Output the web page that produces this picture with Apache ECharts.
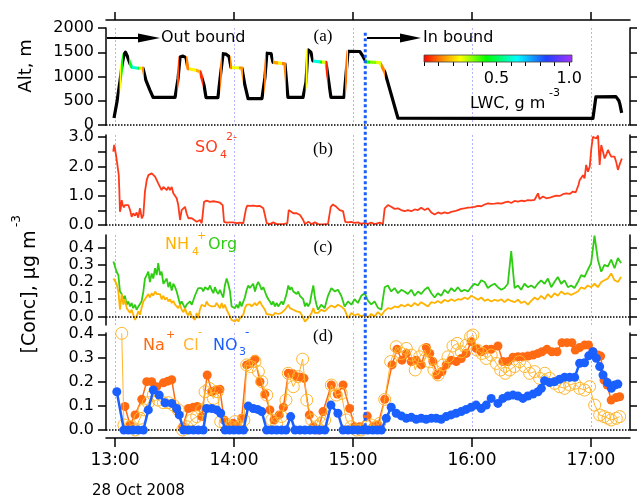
<!DOCTYPE html>
<html><head><meta charset="utf-8">
<script src="https://cdn.jsdelivr.net/npm/echarts@6/dist/echarts.min.js"></script>
<style>html,body{margin:0;padding:0;background:#fff}#c{width:638px;height:498px}</style>
</head><body><div id="c"></div>
<script>
// ---------- DATA (time = minutes after 13:00, 28 Oct 2008) ----------
const xTickValues = [0, 60, 120, 180, 240];
const xTickLabels = ['13:00', '14:00', '15:00', '16:00', '17:00'];
const altTicks = [0, 500, 1000, 1500, 2000];
const so4Labels = [0, 1, 2, 3];
const so4Ticks = [0, 0.5, 1, 1.5, 2, 2.5, 3];
const concTicks = [0, 0.1, 0.2, 0.3, 0.4];
const lwcTicks = [0, 0.1, 0.2, 0.3, 0.4, 0.5, 0.6, 0.7, 0.8, 0.9, 1.0];
const lwcLabels = [0.5, 1.0];
const inboundTime = 126.2;

// altitude [time, m]
const altitude = [[-0.5,145],[1.0,480],[2.5,900],[3.5,1230],[4.5,1450],[5.3,1500],[6.1,1430],[6.8,1450],[7.6,1260],[8.6,1185],[10.1,1180],[11.6,1170],[14.1,1175],[15.6,920],[17.6,720],[19.2,570],[24.5,568],[30.3,570],[31.8,960],[32.8,1400],[34.3,1420],[35.8,1390],[36.8,1160],[37.8,1145],[40.8,1130],[42.9,1100],[43.9,1090],[44.9,820],[45.9,565],[51.9,565],[52.9,930],[54.5,1470],[56.0,1460],[57.5,1410],[58.5,1185],[61.0,1180],[64.0,1175],[65.5,820],[67.1,545],[74.1,545],[75.6,980],[76.6,1480],[78.7,1470],[79.7,1290],[85.7,1260],[87.2,570],[94.8,570],[96.3,880],[97.3,1550],[98.8,1500],[99.8,1320],[103.4,1300],[106.4,1290],[108.9,570],[115.5,570],[117.5,1520],[123.5,1515],[125.0,1420],[126.6,1300],[133.6,1285],[136.1,1090],[142.7,140],[190.0,138],[241.0,135],[242.5,580],[252.6,585],[254.1,500],[254.6,430],[255.5,250]];

// cloud passages: [start, end, LWC g m-3]
const lwcSegments = [[1.8,2.6,0.04],[2.6,3.1,0.25],[3.1,3.8,0.43],[7.3,8.4,0.45],[8.4,11.4,0.6],[11.4,12.3,0.45],[12.3,13.5,0.28],[13.5,14.4,0.12],
 [31.3,32.4,0.06],[35.9,37.2,0.12],[37.2,40.6,0.24],[40.6,42.9,0.17],[42.9,44.2,0.04],
 [52.9,54.0,0.1],[57.9,58.9,0.12],[58.9,62.4,0.26],[62.4,64.3,0.14],
 [75.2,76.2,0.1],[79.6,82.0,0.15],[82.0,84.2,0.24],[84.2,86.0,0.12],
 [95.6,96.4,0.03],[96.4,96.9,0.25],[96.9,97.4,0.43],[99.8,100.6,0.45],[100.6,103.4,0.62],[103.4,104.5,0.45],[104.5,105.7,0.28],[105.7,106.6,0.12],[106.6,107.4,0.03],
 [116.0,116.8,0.1],[116.8,117.4,0.25],[126.3,128.5,0.42],[128.5,131.5,0.34],[131.5,134.3,0.27],[134.3,136.0,0.12]];

const so4 = [[-0.9,2.5],[-0.4,2.73],[0.2,2.78],[0.5,2.39],[1.2,2.05],[1.9,1.70],[2.2,1.14],[2.5,0.45],[2.9,0.57],[3.4,0.85],[3.9,0.68],[4.5,0.6],[5.0,0.68],[5.9,0.62],[6.7,0.68],[7.6,0.51],[8.4,0.28],[9.2,0.40],[10.1,0.32],[10.9,0.43],[11.7,0.25],[12.6,0.57],[13.5,0.23],[14.3,0.34],[15.1,1.14],[16.0,1.53],[16.8,1.70],[17.6,1.65],[18.5,1.76],[19.3,1.70],[20.2,1.65],[21.0,1.59],[21.8,1.42],[22.7,1.36],[23.5,1.19],[24.4,1.30],[25.2,1.25],[26.1,1.19],[26.9,1.30],[27.7,1.19],[28.6,1.30],[29.4,1.08],[30.3,1.02],[31.1,0.91],[31.9,0.68],[32.8,0.17],[33.6,0.51],[34.4,0.57],[35.3,0.62],[36.1,0.40],[37.0,0.23],[37.8,0.17],[38.7,0.23],[39.5,0.17],[41.2,0.11],[42.9,0.17],[43.7,0.06],[44.2,0.34],[44.9,0.79],[46.2,0.83],[47.9,0.79],[49.6,0.81],[51.3,0.79],[52.9,0.76],[54.3,0.68],[55.0,0.11],[56.3,0.08],[58.0,0.09],[59.6,0.09],[61.4,0.06],[63.0,0.08],[64.7,0.06],[66.1,0.57],[66.7,0.66],[68.1,0.65],[69.7,0.66],[71.4,0.64],[73.1,0.65],[74.8,0.57],[75.6,0.34],[76.5,0.06],[78.2,0.03],[79.8,0.09],[81.5,0.03],[84.9,0.03],[86.9,0.06],[87.6,0.51],[88.2,0.49],[89.9,0.40],[91.6,0.40],[93.3,0.34],[94.9,0.17],[95.8,0.03],[97.5,0.11],[99.2,0.03],[100.8,0.09],[102.5,0.03],[104.9,0.02],[107.4,0.04],[108.8,0.62],[109.9,0.70],[111.6,0.62],[113.3,0.51],[115.0,0.47],[116.1,0.11],[117.5,0.09],[119.1,0.11],[120.9,0.07],[122.5,0.09],[124.2,0.04],[125.9,0.07],[127.6,0.04],[129.2,0.08],[130.9,0.03],[133.5,0.08],[135.1,0.03],[136.0,0.57],[137.6,0.68],[139.3,0.62],[141.0,0.55],[142.7,0.57],[144.3,0.51],[146.1,0.47],[147.7,0.51],[149.4,0.47],[151.1,0.53],[152.8,0.51],[154.4,0.59],[156.2,0.51],[157.8,0.57],[159.5,0.43],[161.2,0.36],[162.9,0.43],[164.5,0.39],[166.2,0.43],[167.9,0.40],[169.6,0.45],[171.3,0.47],[172.9,0.51],[174.6,0.55],[176.3,0.57],[178.0,0.59],[179.6,0.60],[181.4,0.62],[183.0,0.65],[184.7,0.64],[186.4,0.70],[188.1,0.74],[189.7,0.72],[191.5,0.73],[193.1,0.75],[194.8,0.73],[196.5,0.77],[198.2,0.80],[199.8,0.75],[201.5,0.82],[203.2,0.80],[204.9,0.83],[206.5,0.81],[208.2,0.85],[209.9,0.84],[211.6,0.86],[213.3,1.08],[214.1,0.89],[215.8,0.97],[217.5,0.91],[219.2,0.93],[220.8,0.97],[222.5,1.00],[224.2,0.99],[225.9,1.05],[227.6,1.08],[229.3,1.06],[230.9,1.14],[232.3,1.11],[233.8,1.38],[234.3,1.53],[235.1,1.59],[236.0,1.70],[236.8,1.59],[237.6,2.05],[238.5,1.82],[239.4,1.99],[240.2,2.61],[241.0,3.01],[241.9,3.06],[242.7,2.95],[243.6,3.05],[244.4,2.05],[245.2,2.73],[246.1,2.50],[246.9,2.27],[247.7,2.39],[248.6,2.56],[249.4,2.44],[250.2,2.33],[251.1,2.27],[251.9,2.33],[252.7,2.16],[253.6,1.88],[254.4,2.05],[255.6,2.27]];

const amsTime = [-0.8,0.0,0.8,1.7,2.5,3.4,4.2,5.0,5.9,6.7,7.6,8.4,9.2,10.1,10.9,11.8,12.6,13.4,14.3,15.1,16.0,16.8,17.6,18.5,19.3,20.2,21.0,21.8,22.7,23.5,24.4,25.2,26.1,26.9,27.7,28.6,29.4,30.3,31.1,31.9,32.8,33.6,34.5,35.3,36.1,37.0,37.8,38.7,39.5,40.3,41.2,42.0,42.8,43.7,44.5,45.4,46.2,47.0,47.9,48.7,49.6,50.4,51.2,52.1,52.9,53.8,54.6,55.4,56.3,57.1,58.0,58.8,59.6,60.5,61.3,62.2,63.0,63.8,64.7,65.5,66.4,67.2,68.0,68.9,69.7,70.6,71.4,72.2,73.1,73.9,74.8,75.6,76.4,77.3,78.1,79.0,79.8,80.6,81.5,82.3,83.2,84.0,84.8,85.7,86.5,87.4,88.2,89.0,89.9,90.7,91.6,92.4,93.2,94.1,94.9,95.8,96.6,97.4,98.3,99.1,100.0,100.8,101.6,
 102.4,104.0,105.7,107.4,109.1,110.8,112.4,114.1,115.8,117.5,119.2,120.8,122.5,124.2,125.9,127.6,129.2,130.9,132.6,134.3,136.0,137.6,139.3,141.0,142.7,144.4,146.0,147.7,149.4,151.1,152.8,154.4,156.1,157.8,159.5,161.2,162.8,164.5,166.2,167.9,169.6,171.2,172.9,174.6,176.3,178.0,179.6,181.3,183.0,184.7,186.4,188.0,189.7,191.4,193.1,194.8,196.4,198.1,199.8,201.5,203.2,204.8,206.5,208.2,209.9,211.6,213.2,214.9,216.6,218.3,220.0,221.6,223.3,225.0,226.7,228.4,230.0,231.7,233.4,235.1,236.8,238.4,240.1,241.8,243.5,245.2,246.8,248.5,250.2,251.9,253.6,255.2];

const nh4 = [.22,.21,.19,.145,.04,.13,.068,.10,.048,.039, .02,.039,.01,-.02,0,.029,.01,.048,.087,.10, .097,.13,.11,.135,.12,.145,.13,.12,.13,.10, .12,.097,.11,.087,.10,.078,.09,.068,.078,.048, .068,.039,.025,.048,.02,.006,.029,0,.01,-.02, .02,-.01,.039,.068,.078,.058,.087,.068,.078,.058, .068,.058,.078,.068,.048,.078,.048,.068,.039,.02, 0,-.02,-.01,-.03,-.015,-.03,-.01,-.02,.01,.048, .068,.058,.07,.058,.068,.078,.064,.07,.087,.068, .058,.039,.014,.02,.01,.014,.006,.02,.01,.014, .006,.02,.025,.039,.048,.068,.048,.058,.039,.048, .029,.039,.025,.01,-.01,-.03,-.02,-.01,0,.02, .048,.02,.029,
 .02,.039,.029,.048,.064,.052,.068,.058,.039,-.01, .02,.006,.014,0,.01,-.005,.014,0,.025,.006, .033,.048,.044,.058,.052,.068,.058,.07,.058,.078, .064,.083,.07,.058,.083,.078,.09,.078,.097,.087, .10,.09,.10,.097,.11,.10,.12,.11,.097,.11, .09,.10,.087,.097,.09,.10,.083,.10,.09,.083, .097,.078,.087,.068,.09,.11,.097,.12,.10,.13, .11,.135,.12,.145,.13,.135,.125,.135,.145,.17, .16,.18,.17,.19,.17,.20,.21,.22,.25,.21, .20,.23];

const org = [.32,.33,.26,.24,.145,.13,.10,.12,.068,.087, .058,.078,.048,.068,.039,.058,.068,.087,.145,.22, .24,.26,.20,.25,.22,.28,.24,.31,.24,.26, .19,.18,.22,.17,.20,.15,.19,.17,.145,.11, .068,.087,.078,.048,.068,.058,.087,.068,.078,.12, .145,.165,.155,.165,.145,.17,.165,.155,.18,.155, .135,.17,.145,.13,.155,.13,.11,.18,.22,.19, .145,.058,.068,.048,.068,.048,.087,.058,.068,.11, .155,.18,.165,.17,.19,.145,.18,.20,.18,.155, .17,.145,.12,.10,.087,.068,.087,.058,.078,.058, .068,.087,.068,.10,.13,.18,.155,.17,.145,.155, .13,.145,.12,.13,.10,.058,.078,.058,.078,.13, .18,.11,.068,
 .039,.068,.048,.12,.165,.145,.155,.12,.058,.087, .068,.10,.078,.12,.135,.09,.07,.087,.05,.039, .17,.18,.145,.165,.135,.155,.145,.13,.155,.12, .145,.13,.155,.17,.135,.11,.135,.12,.155,.135, .165,.145,.17,.145,.155,.145,.17,.19,.18,.21, .20,.165,.18,.19,.17,.155,.165,.19,.38,.165, .18,.155,.19,.17,.18,.165,.19,.21,.19,.22, .17,.20,.23,.19,.21,.17,.18,.165,.20,.24, .23,.27,.31,.47,.33,.26,.30,.29,.33,.28, .34,.31];

const na = [[5.0,0.098],[7.6,0.021],[10.1,0.063],[13.5,0.128],[16.0,0.202],[18.5,0.202],[21.0,0.181],[24.4,0.197],[26.6,0.204],[28.6,0.21],[31.1,0.086],[34.1,0.014],[37.0,0.09],[39.5,0.095],[41.5,0.098],[43.7,0.056],[46.5,0.23],[48.8,0.16],[50.9,0.167],[52.9,0.17],[55.0,0.042],[57.1,0.014],[59.6,0.028],[61.7,0.014],[63.9,0.049],[66.4,0.272],[68.4,0.279],[70.6,0.296],[73.1,0.202],[75.6,0.15],[78.1,0.084],[80.2,0.042],[82.8,0.063],[84.9,0.095],[87.4,0.237],[89.6,0.235],[91.6,0.223],[93.6,0.22],[95.3,0.216],[98.0,0.063],[100.0,0.014],[102.5,0.0],[104.9,0.077],[109.1,0.188],[112.1,0.15],[115.0,0.188],[118.3,0.09],[120.9,0.014],[123.4,0.014],[127.2,0.058],[130.1,0.014],[132.6,0.021],[136.0,0.128],[139.7,0.272],[142.2,0.337],[144.7,0.292],[146.9,0.32],[149.4,0.286],[151.9,0.292],[154.4,0.272],[157.0,0.345],[158.7,0.32],[160.3,0.286],[162.5,0.23],[164.9,0.244],[167.0,0.272],[169.6,0.292],[172.1,0.286],[174.6,0.299],[177.1,0.32],[179.6,0.369],[182.2,0.341],[184.7,0.327],[187.2,0.337],[189.7,0.337],[193.1,0.351],[195.6,0.286],[198.2,0.286],[200.7,0.304],[203.2,0.306],[205.7,0.306],[208.2,0.309],[210.8,0.313],[213.3,0.32],[215.3,0.327],[217.8,0.337],[220.3,0.327],[222.9,0.327],[225.4,0.365],[227.9,0.365],[230.4,0.365],[232.1,0.334],[234.3,0.345],[236.8,0.355],[238.8,0.355],[241.0,0.327],[243.5,0.313],[244.9,0.309],[246.6,0.209],[248.2,0.188],[250.2,0.125],[252.8,0.136],[254.5,0.139]];

const cl = [[3.4,0.404],[4.5,0.021],[7.6,0.014],[10.1,0.0],[12.6,0.049],[14.6,0.084],[16.8,0.114],[19.3,0.146],[21.8,0.125],[24.4,0.114],[26.9,0.114],[29.4,0.104],[31.9,0.084],[34.1,0.0],[36.2,0.014],[38.7,0.042],[41.2,0.056],[43.7,0.084],[45.4,0.16],[47.5,0.174],[49.6,0.132],[51.6,0.16],[53.3,0.035],[55.5,0.028],[58.0,0.014],[60.5,0.035],[63.0,0.014],[65.0,0.042],[66.4,0.272],[68.4,0.265],[70.6,0.286],[72.3,0.244],[74.0,0.202],[76.5,0.146],[79.0,0.042],[81.5,0.028],[84.0,0.056],[86.2,0.125],[87.4,0.237],[89.9,0.181],[92.4,0.223],[94.6,0.296],[96.7,0.125],[99.2,0.042],[101.7,0.014],[104.0,0.028],[105.7,0.042],[109.1,0.188],[111.6,0.146],[114.1,0.153],[116.6,0.042],[119.1,0.014],[121.7,0.0],[124.2,0.0],[126.7,0.014],[129.2,0.021],[131.7,0.014],[133.5,0.028],[136.0,0.128],[139.0,0.286],[141.8,0.348],[144.4,0.32],[146.9,0.341],[149.4,0.313],[151.4,0.251],[153.6,0.306],[156.2,0.334],[158.7,0.285],[160.8,0.251],[162.9,0.23],[165.4,0.272],[167.9,0.306],[170.4,0.351],[172.6,0.362],[174.6,0.327],[177.1,0.355],[179.3,0.39],[180.5,0.397],[182.7,0.334],[185.0,0.32],[187.2,0.299],[189.7,0.313],[192.3,0.278],[194.5,0.251],[196.8,0.237],[199.0,0.251],[201.5,0.265],[204.0,0.286],[206.6,0.265],[209.1,0.237],[211.6,0.244],[214.1,0.216],[216.7,0.237],[219.2,0.216],[221.7,0.195],[224.2,0.181],[226.7,0.174],[229.3,0.188],[231.8,0.195],[234.3,0.174],[236.8,0.167],[239.3,0.181],[241.9,0.104],[244.4,0.063],[246.6,0.056],[248.6,0.049],[250.2,0.042],[252.8,0.049],[254.5,0.056]];

const no3 = [[0.9,0.16],[4.5,0],[6.7,0],[9.2,0],[11.7,0],[14.3,0],[16.8,0.084],[19.3,0.167],[22.3,0.146],[25.2,0.114],[28.6,0.111],[31.1,0.09],[32.4,0.063],[34.6,0],[37,0],[39.5,0],[42,0],[44.5,0],[46.2,0.09],[48.8,0.09],[51.3,0.084],[53.3,0.07],[55.5,0],[57.8,0],[60,0],[62.4,0],[64.8,0],[67.2,0.1],[69.7,0.09],[71.9,0.086],[74,0.077],[76.5,0],[79,0],[81.5,0],[84,0],[86.2,0],[88.6,0.056],[90.8,0],[93.3,0],[95.8,0],[98.3,0],[100.8,0],[103.3,0],[105.8,0],[108.9,0.104],[112.4,0.07],[115,0],[117.5,0],[120,0],[122.5,0],[125,0],[127.5,0],[130,0],[132.3,0],[134.3,0],[136.8,0.049],[139.3,0.095],[141.8,0.07],[144.4,0.059],[146.9,0.049],[149.4,0.053],[151.9,0.045],[154.4,0.049],[156.9,0.045],[159.5,0.049],[162,0.049],[164.5,0.045],[167,0.056],[169.5,0.063],[172,0.07],[174.6,0.077],[177.1,0.086],[179.6,0.095],[182.1,0.104],[184.7,0.09],[187.2,0.104],[189.7,0.132],[193.1,0.111],[195.6,0.132],[198.2,0.142],[200.7,0.146],[203.2,0.142],[205.7,0.132],[208.2,0.142],[210.8,0.15],[213.3,0.16],[215,0.174],[216.6,0.206],[219.2,0.198],[221.7,0.202],[224.2,0.212],[226.7,0.22],[229.3,0.22],[231.8,0.22],[234.3,0.279],[236.8,0.281],[238.9,0.31],[241,0.327],[242.7,0.30],[244.4,0.265],[246.1,0.23],[248.3,0.198],[250.3,0.174],[252,0.188],[253.6,0.192]];

// ---------- STYLE ----------
const FONT = 'DejaVu Sans';
const C_SO4 = '#ff3a1a', C_NH4 = '#ffb300', C_ORG = '#2ecc12', C_NA = '#ff6a13', C_CL = '#ffb52e', C_NO3 = '#1a5fff';
const cmapStops = [[0,[255,0,0]],[0.1,[255,112,0]],[0.25,[255,255,0]],[0.43,[0,255,0]],[0.64,[0,255,255]],[0.84,[32,64,255]],[1,[153,51,255]]];
function lwcColor(v) {
  for (let i = 1; i < cmapStops.length; i++) {
    if (v <= cmapStops[i][0]) {
      const a = cmapStops[i-1], b = cmapStops[i];
      const f = (v - a[0]) / (b[0] - a[0]);
      const c = a[1].map((x, k) => Math.round(x + (b[1][k] - x) * f));
      return 'rgb(' + c.join(',') + ')';
    }
  }
  return 'rgb(153,51,255)';
}

const xMin = -4.54, xMax = 259.7;
const chart = echarts.init(document.getElementById('c'), null, {renderer: 'canvas'});

const gridLine = {show: true, lineStyle: {color: '#b4b4ff', type: [2, 2], width: 1}};
function xAx(i, extra) {
  return Object.assign({
    type: 'value', gridIndex: i, min: xMin, max: xMax,
    axisLine: {show: false, onZero: false},
    axisTick: {show: false, customValues: xTickValues},
    axisLabel: {show: false},
    splitLine: gridLine
  }, extra || {});
}
const axLine = {show: true, onZero: false, lineStyle: {color: '#000', width: 1.5}};
function yLeft(i, min, max, ticks, labels, fmt) {
  return {
    type: 'value', gridIndex: i, position: 'left', min: min, max: max,
    axisLine: axLine,
    axisTick: {show: true, customValues: ticks, length: 8, lineStyle: {color: '#000', width: 1.5}},
    axisLabel: {show: true, customValues: labels, formatter: fmt, fontSize: 16, fontFamily: FONT, color: '#000', margin: 12},
    splitLine: {show: false}
  };
}
function yRight(i, min, max, ticks) {
  return {
    type: 'value', gridIndex: i, position: 'right', min: min, max: max,
    axisLine: axLine,
    axisTick: {show: true, customValues: ticks, length: 7, lineStyle: {color: '#000', width: 1.5}},
    axisLabel: {show: false},
    splitLine: {show: false}
  };
}
const zeroLine = {silent: true, symbol: 'none', label: {show: false}, animation: false,
  lineStyle: {color: '#000', type: [1.5, 1.5], width: 1.5}, data: [{yAxis: 0}]};

const f1 = v => Number(v).toFixed(1);

const option = {
  animation: false,
  textStyle: {fontFamily: FONT},
  grid: [
    {left: 106, right: 8, top: 28, height: 97},
    {left: 106, right: 8, top: 135, height: 90},
    {left: 106, right: 8, top: 235, height: 90},
    {left: 106, right: 8, top: 333, height: 97},
    {left: 424, top: 55, width: 148, height: 7}
  ],
  xAxis: [
    xAx(0, {position: 'top', offset: 8, axisLine: axLine,
      axisTick: {show: true, customValues: xTickValues, length: 8, lineStyle: {color: '#000', width: 1.5}}}),
    xAx(1),
    xAx(2),
    xAx(3, {position: 'bottom', offset: 8, axisLine: axLine,
      axisTick: {show: true, customValues: xTickValues, length: 9, lineStyle: {color: '#000', width: 1.5}},
      axisLabel: {show: true, customValues: xTickValues, fontSize: 17, fontFamily: FONT, color: '#000', margin: 14,
        formatter: v => xTickLabels[xTickValues.indexOf(Math.round(v))] || ''}}),
    {type: 'value', gridIndex: 4, min: 0, max: 1.02, position: 'bottom',
      axisLine: {show: false, onZero: false},
      axisTick: {show: true, customValues: lwcTicks, length: 4, lineStyle: {color: '#000', width: 1}},
      axisLabel: {show: true, customValues: lwcLabels, formatter: f1, fontSize: 16, fontFamily: FONT, color: '#000', margin: 9},
      splitLine: {show: false}}
  ],
  yAxis: [
    yLeft(0, 0, 2000, altTicks, altTicks, v => String(Math.round(v))),
    yRight(0, 0, 2000, altTicks),
    yLeft(1, 0, 3.07, so4Ticks, so4Labels, f1),
    yRight(1, 0, 3.07, so4Ticks),
    yLeft(2, -0.05, 0.4736, concTicks, concTicks, f1),
    yRight(2, -0.05, 0.4736, concTicks),
    yLeft(3, 0, 0.4054, concTicks, concTicks, f1),
    yRight(3, 0, 0.4054, concTicks),
    {type: 'value', gridIndex: 4, min: 0, max: 1, show: false}
  ],
  visualMap: [{
    type: 'piecewise', show: false, seriesIndex: 0, dimension: 0,
    pieces: lwcSegments.map(s => ({gte: s[0], lt: s[1], color: lwcColor(s[2])})),
    outOfRange: {color: '#000'}
  }],
  series: [
    {type: 'line', name: 'Alt', xAxisIndex: 0, yAxisIndex: 0, data: altitude, symbol: 'none', z: 4,
      lineStyle: {width: 3.2, join: 'round'}, markLine: zeroLine},
    {type: 'line', name: 'SO4', xAxisIndex: 1, yAxisIndex: 2, data: so4, symbol: 'none', z: 3,
      lineStyle: {width: 1.8, color: C_SO4}, markLine: zeroLine},
    {type: 'line', name: 'Org', xAxisIndex: 2, yAxisIndex: 4, data: amsTime.map((t, i) => [t, org[i]]), symbol: 'none', z: 3,
      lineStyle: {width: 1.8, color: C_ORG}, markLine: zeroLine},
    {type: 'line', name: 'NH4', xAxisIndex: 2, yAxisIndex: 4, data: amsTime.map((t, i) => [t, nh4[i]]), symbol: 'none', z: 3,
      lineStyle: {width: 1.8, color: C_NH4}},
    {type: 'line', name: 'Na', xAxisIndex: 3, yAxisIndex: 6, data: na, symbol: 'circle', symbolSize: 9, z: 3,
      lineStyle: {width: 1.5, color: C_NA}, itemStyle: {color: C_NA}, markLine: zeroLine},
    {type: 'line', name: 'Cl', xAxisIndex: 3, yAxisIndex: 6, data: cl, symbol: 'circle', symbolSize: 12, z: 4,
      lineStyle: {width: 1, color: C_CL}, itemStyle: {color: 'rgba(0,0,0,0)', borderColor: C_CL, borderWidth: 1}},
    {type: 'line', name: 'NO3', xAxisIndex: 3, yAxisIndex: 6, data: no3, symbol: 'circle', symbolSize: 9, z: 5,
      lineStyle: {width: 2.5, color: C_NO3}, itemStyle: {color: C_NO3}},
    {type: 'line', xAxisIndex: 4, yAxisIndex: 8, data: [], silent: true}
  ]
};
chart.setOption(option);

// ---------- annotations ----------
function txt(x, y, s, size, color, extra) {
  return Object.assign({type: 'text', x: x, y: y, z: 20,
    style: Object.assign({text: s, fontSize: size, fontFamily: FONT, fill: color || '#000', align: 'left', verticalAlign: 'middle'}, (extra && extra.style) || {})},
    extra && extra.rotation !== undefined ? {rotation: extra.rotation} : {});
}
const bx = chart.convertToPixel({xAxisIndex: 0}, inboundTime);
const byTop = chart.convertToPixel({yAxisIndex: 0}, 1900);
const byBot = chart.convertToPixel({yAxisIndex: 6}, 0);
const serif = {style: {fontFamily: 'Liberation Serif', align: 'center'}};

const graphics = [
  // colorbar
  {type: 'rect', z: 20, shape: {x: 424, y: 55, width: 148, height: 7},
    style: {fill: new echarts.graphic.LinearGradient(0, 0, 1, 0,
      cmapStops.map(s => ({offset: s[0] / 1.02, color: 'rgb(' + s[1].join(',') + ')'})).concat([{offset: 1, color: 'rgb(153,51,255)'}])),
      stroke: '#444', lineWidth: 0.8}},
  txt(470, 104, 'LWC, g m', 16),
  txt(549, 93, '-3', 11),
  // out/in bound arrows
  {type: 'line', z: 20, shape: {x1: 107, y1: 38, x2: 142, y2: 38}, style: {stroke: '#000', lineWidth: 2}},
  {type: 'polygon', z: 20, shape: {points: [[138, 33.5], [160, 38], [138, 42.5]]}, style: {fill: '#000'}},
  txt(161, 38, 'Out bound', 16),
  {type: 'line', z: 20, shape: {x1: 367, y1: 38, x2: 404, y2: 38}, style: {stroke: '#000', lineWidth: 2}},
  {type: 'polygon', z: 20, shape: {points: [[400, 33.5], [421, 38], [400, 42.5]]}, style: {fill: '#000'}},
  txt(423, 38, 'In bound', 16),
  // panel tags
  txt(323, 37, '(a)', 17, '#000', serif),
  txt(323, 150, '(b)', 17, '#000', serif),
  txt(323, 248, '(c)', 17, '#000', serif),
  txt(323, 337, '(d)', 17, '#000', serif),
  // panel legends
  txt(195, 148, 'SO', 16, C_SO4), txt(220, 155, '4', 11, C_SO4), txt(226, 137, '2-', 11, C_SO4),
  txt(165, 245, 'NH', 16, C_NH4), txt(192, 252, '4', 11, C_NH4), txt(197, 236, '+', 11, C_NH4),
  txt(208, 245, 'Org', 16, C_ORG),
  txt(143, 346, 'Na', 16, C_NA), txt(166, 335, '+', 11, C_NA),
  txt(183, 346, 'Cl', 16, C_CL), txt(198, 333, '-', 12, C_CL),
  txt(213, 346, 'NO', 16, C_NO3), txt(239, 352, '3', 11, C_NO3), txt(245, 333, '-', 12, C_NO3),
  // axis titles
  txt(26, 66, 'Alt, m', 18, '#000', {rotation: Math.PI / 2, style: {align: 'center'}}),
  txt(30, 292, '[Conc], \u03bcg m', 19, '#000', {rotation: Math.PI / 2, style: {align: 'center'}}),
  txt(17, 221, '-3', 12, '#000', {rotation: Math.PI / 2, style: {align: 'center'}}),
  txt(92, 491, '28 Oct 2008', 15),
  // inbound marker line
  {type: 'line', z: 15, shape: {x1: bx, y1: byTop, x2: bx, y2: byBot},
    style: {stroke: '#1a5cff', lineWidth: 3, lineDash: [3, 2.5]}}
];
chart.setOption({graphic: graphics});
</script></body></html>
